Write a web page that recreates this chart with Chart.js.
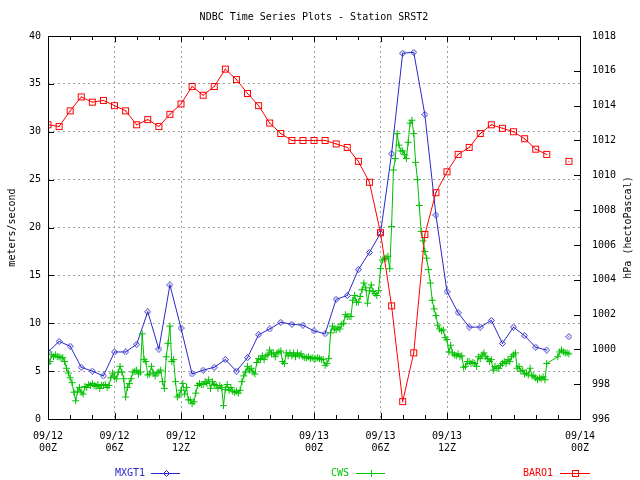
<!DOCTYPE html>
<html>
<head>
<meta charset="utf-8">
<script src="https://cdn.jsdelivr.net/npm/chart.js@4/dist/chart.umd.min.js"></script>
<style>
  html, body { margin: 0; padding: 0; background: #fff; }
  #wrap { width: 640px; height: 480px; }
</style>
</head>
<body>
<div id="wrap"><canvas id="plot" width="640" height="480"></canvas></div>
<script>
// hours since 09/12 00Z, hourly observations
const hours = [0, 1, 2, 3, 4, 5, 6, 7, 8, 9, 10, 11, 12, 13, 14, 15, 16, 17, 18, 19, 20, 21, 22, 23,
               24, 25, 26, 27, 28, 29, 30, 31, 32, 33, 34, 35, 36, 37, 38, 39, 40, 41, 42, 43, 44, 45, 46, 47];

// peak gust, m/s (hour 46 missing)
const mxgt1 = [7.0, 8.1, 7.6, 5.4, 5.0, 4.5, 7.0, 7.0, 7.8, 11.2, 7.3, 14.0,
               9.5, 4.7, 5.1, 5.4, 6.2, 5.0, 6.4, 8.8, 9.4, 10.1, 9.9, 9.8,
               9.2, 8.9, 12.5, 12.9, 15.6, 17.4, 19.4, 27.7, 38.2, 38.3, 31.8, 21.3,
               13.3, 11.1, 9.6, 9.6, 10.3, 7.9, 9.6, 8.7, 7.5, 7.2, null, 8.6];

// pressure, hPa (hour 46 missing)
const baro1 = [1012.9, 1012.8, 1013.7, 1014.5, 1014.2, 1014.3, 1014.0, 1013.7, 1012.9, 1013.2, 1012.8, 1013.5,
               1014.1, 1015.1, 1014.6, 1015.1, 1016.1, 1015.5, 1014.7, 1014.0, 1013.0, 1012.4, 1012.0, 1012.0,
               1012.0, 1012.0, 1011.8, 1011.6, 1010.8, 1009.6, 1006.7, 1002.5, 997.0, 999.8, 1006.6, 1009.0,
               1010.2, 1011.2, 1011.6, 1012.4, 1012.9, 1012.7, 1012.5, 1012.1, 1011.5, 1011.2, null, 1010.8];

// continuous wind speed, m/s, one row per hour, 10-minute values
const cwsHourly = [
  [5.8, 6.0, 6.7, 6.5, 6.7, 6.5],
  [6.5, 6.4, 6.4, 6.0, 5.3, 4.8],
  [4.3, 3.8, 2.8, 1.9, 2.9, 3.3],
  [2.8, 2.6, 3.4, 3.3, 3.6, 3.5],
  [3.7, 3.5, 3.4, 3.6, 3.2, 3.5],
  [3.5, 3.6, 3.3, 3.5, 4.3, 4.8],
  [4.4, 4.2, 4.9, 5.5, 4.9, 4.2],
  [2.3, 3.3, 3.7, 4.2, 4.9, 5.0],
  [5.1, 4.7, 4.9, 8.9, 6.2, 6.0],
  [4.6, 4.7, 5.5, 4.8, 4.5, 4.8],
  [4.9, 5.1, 3.9, 3.2, 6.5, 7.9],
  [9.7, 6.0, 6.2, 3.9, 2.3, 2.5],
  [3.0, 3.7, 2.6, 3.3, 2.0, 2.0],
  [1.6, 1.8, 2.7, 3.5, 3.7, 3.6],
  [3.6, 3.9, 3.7, 4.1, 3.2, 3.9],
  [3.6, 3.5, 3.2, 3.5, 3.3, 1.4],
  [3.1, 3.6, 3.0, 3.3, 2.9, 2.8],
  [2.9, 2.7, 3.0, 3.9, 4.5, 4.9],
  [5.5, 5.1, 5.3, 4.9, 4.7, 5.9],
  [6.3, 6.2, 6.6, 6.2, 6.6, 6.7],
  [7.2, 6.8, 6.9, 6.5, 6.9, 7.0],
  [7.1, 6.0, 5.8, 6.9, 6.6, 6.9],
  [6.6, 6.9, 6.5, 6.9, 6.6, 6.8],
  [6.5, 6.4, 6.4, 6.5, 6.3, 6.4],
  [6.3, 6.3, 6.4, 6.3, 6.2, 6.2],
  [5.6, 5.8, 6.3, 9.0, 9.7, 9.4],
  [9.3, 9.6, 9.4, 9.9, 10.0, 10.9],
  [10.7, 10.7, 10.7, 12.4, 12.9, 12.2],
  [12.2, 12.8, 13.5, 14.2, 13.7, 12.1],
  [13.4, 14.0, 13.3, 13.1, 12.9, 13.4],
  [15.7, 16.6, 16.7, 16.8, 17.0, 15.7],
  [20.1, 26.0, 27.2, 29.8, 28.6, 28.0],
  [28.0, 27.6, 27.2, 28.9, 30.9, 31.2],
  [29.8, 26.8, 25.0, 22.3, 19.6, 18.6],
  [17.5, 16.8, 15.6, 14.2, 12.4, 11.5],
  [10.8, 9.8, 9.4, 9.2, 9.3, 8.5],
  [8.3, 7.0, 7.7, 6.9, 6.7, 6.6],
  [6.8, 6.5, 6.6, 5.4, 5.5, 6.0],
  [6.0, 5.8, 5.9, 5.8, 5.5, 6.5],
  [6.3, 6.7, 6.9, 6.5, 6.3, 6.0],
  [6.2, 5.1, 5.5, 5.3, 5.3, 5.6],
  [5.8, 6.0, 5.8, 6.2, 6.0, 6.5],
  [6.7, 6.9, 5.3, 5.5, 5.0, 5.1],
  [4.7, 4.8, 4.6, 5.3, 4.5, 4.5],
  [4.3, 4.1, 4.3, 4.2, 4.4, 4.1],
  [5.8],
  [6.5, 7.0, 7.2, 7.0, 6.9, 6.9],
  [6.8]
];

// labelled x ticks (these also carry the vertical grid)
const labelHours = [0, 6, 12, 24, 30, 36, 48];
const labelDates = ['09/12', '09/12', '09/12', '09/13', '09/13', '09/13', '09/14'];
const labelTimes = ['00Z', '06Z', '12Z', '00Z', '06Z', '12Z', '00Z'];
// small unlabelled tick marks
const minorHours = [2, 4, 8, 10, 14, 16, 18, 20, 22, 26, 28, 32, 34, 38, 40, 42, 44, 46];

const FONT = "'DejaVu Sans Mono', 'Liberation Mono', monospace";
const BLUE = 'rgb(40,40,200)';
const GREEN = 'rgb(0,192,0)';
const RED = 'rgb(255,0,0)';
const GRID = '#a0a0a0';

Chart.defaults.font.family = FONT;
Chart.defaults.font.size = 10;
Chart.defaults.color = '#000';

function makeMarker(color, shape) {
    const size = shape === 'square' ? 9 : 7;
    const c = document.createElement('canvas');
    c.width = size; c.height = size;
    const g = c.getContext('2d');
    g.strokeStyle = color;
    g.fillStyle = color;
    g.lineWidth = 1;
    if (shape === 'square') {
        g.strokeRect(1.5, 1.5, 6, 6);
        g.fillRect(4, 4, 1, 1);
    } else {
        g.beginPath();
        g.moveTo(3.5, 0.5); g.lineTo(6.5, 3.5); g.lineTo(3.5, 6.5); g.lineTo(0.5, 3.5);
        g.closePath();
        g.stroke();
        g.fillRect(3, 3, 1, 1);
    }
    return c;
}

const diamond = makeMarker(BLUE, 'diamond');
const square = makeMarker(RED, 'square');

const gustPoints = hours.map((h, i) => ({ x: h, y: mxgt1[i] }));
const baroPoints = hours.map((h, i) => ({ x: h, y: baro1[i] }));
const cwsPoints = [];
cwsHourly.forEach((row, h) => {
    row.forEach((v, k) => cwsPoints.push({ x: h + k / 6, y: v }));
});

// gnuplot-like frame, inward ticks, right axis title and key
const gnuFrame = {
    id: 'gnuFrame',
    afterDraw(chart) {
        const { ctx, chartArea: a, scales } = chart;
        ctx.save();
        ctx.strokeStyle = '#000';
        ctx.lineWidth = 1;
        ctx.strokeRect(a.left + 0.5, a.top + 0.5, a.right - a.left, a.bottom - a.top);

        ctx.beginPath();
        labelHours.concat(minorHours).forEach(h => {
            const px = Math.round(scales.x.getPixelForValue(h)) + 0.5;
            const len = labelHours.includes(h) ? 6 : 4;
            ctx.moveTo(px, a.bottom); ctx.lineTo(px, a.bottom - len);
            ctx.moveTo(px, a.top); ctx.lineTo(px, a.top + len);
        });
        scales.y.ticks.forEach(t => {
            const py = Math.round(scales.y.getPixelForValue(t.value)) + 0.5;
            ctx.moveTo(a.left, py); ctx.lineTo(a.left + 6, py);
        });
        scales.y2.ticks.forEach(t => {
            const py = Math.round(scales.y2.getPixelForValue(t.value)) + 0.5;
            ctx.moveTo(a.right, py); ctx.lineTo(a.right - 6, py);
        });
        ctx.stroke();

        ctx.font = '10px ' + FONT;
        ctx.fillStyle = '#000';
        ctx.textAlign = 'center';
        ctx.textBaseline = 'middle';
        ctx.translate(628, (a.top + a.bottom) / 2);
        ctx.rotate(-Math.PI / 2);
        ctx.fillText('hPa (hectoPascal)', 0, 0);
        ctx.setTransform(1, 0, 0, 1, 0, 0);

        const keyY = 473;
        const keys = [
            { label: 'MXGT1', color: BLUE, right: 145, x1: 151, x2: 180, mark: diamond },
            { label: 'CWS', color: GREEN, right: 349, x1: 356, x2: 385, mark: null },
            { label: 'BARO1', color: RED, right: 553, x1: 560, x2: 590, mark: square }
        ];
        keys.forEach(k => {
            ctx.fillStyle = k.color;
            ctx.strokeStyle = k.color;
            ctx.textAlign = 'right';
            ctx.fillText(k.label, k.right, keyY);
            ctx.beginPath();
            ctx.moveTo(k.x1, keyY + 0.5); ctx.lineTo(k.x2, keyY + 0.5);
            const cx = Math.round((k.x1 + k.x2) / 2);
            if (!k.mark) {
                ctx.moveTo(cx + 0.5, keyY - 3); ctx.lineTo(cx + 0.5, keyY + 4);
            }
            ctx.stroke();
            if (k.mark) {
                ctx.drawImage(k.mark, cx - Math.floor(k.mark.width / 2), keyY - Math.floor(k.mark.height / 2));
            }
        });
        ctx.restore();
    }
};

new Chart(document.getElementById('plot'), {
    type: 'line',
    data: {
        datasets: [
            {
                label: 'MXGT1',
                data: gustPoints,
                yAxisID: 'y',
                borderColor: BLUE,
                borderWidth: 1,
                pointStyle: diamond,
                pointRadius: 3,
                tension: 0,
                spanGaps: false,
                order: 2
            },
            {
                label: 'CWS',
                data: cwsPoints,
                yAxisID: 'y',
                borderColor: GREEN,
                backgroundColor: GREEN,
                borderWidth: 1,
                pointStyle: 'cross',
                pointRadius: 3.5,
                pointBorderWidth: 1,
                tension: 0,
                order: 1
            },
            {
                label: 'BARO1',
                data: baroPoints,
                yAxisID: 'y2',
                borderColor: RED,
                borderWidth: 1,
                pointStyle: square,
                pointRadius: 4,
                tension: 0,
                spanGaps: false,
                order: 0
            }
        ]
    },
    options: {
        responsive: false,
        animation: false,
        devicePixelRatio: 1,
        layout: { padding: { top: 0, bottom: 26, left: 0, right: 0 } },
        plugins: {
            legend: { display: false },
            tooltip: { enabled: false },
            title: {
                display: true,
                text: 'NDBC Time Series Plots - Station SRST2',
                fullSize: false,
                font: { size: 10, weight: 'normal', family: FONT },
                color: '#000',
                padding: { top: 11, bottom: 13 }
            }
        },
        scales: {
            x: {
                type: 'linear',
                min: 0,
                max: 48,
                afterFit(scale) { scale.height = 35; },
                afterBuildTicks(scale) {
                    scale.ticks = labelHours.map(v => ({ value: v }));
                },
                ticks: {
                    autoSkip: false,
                    maxRotation: 0,
                    minRotation: 0,
                    padding: 11,
                    callback(value) {
                        const i = labelHours.indexOf(value);
                        return i >= 0 ? [labelDates[i], labelTimes[i]] : '';
                    }
                },
                grid: { drawTicks: false, lineWidth: 1, color: GRID },
                border: { display: false, dash: [2, 3] }
            },
            y: {
                position: 'left',
                min: 0,
                max: 40,
                afterFit(scale) { scale.width = 48; },
                ticks: { stepSize: 5, padding: 7 },
                grid: { drawTicks: false, color: GRID, lineWidth: 1 },
                border: { display: false, dash: [2, 3] },
                title: {
                    display: true,
                    text: 'meters/second',
                    font: { size: 10, family: FONT },
                    padding: { top: 6, bottom: 0 }
                }
            },
            y2: {
                position: 'right',
                min: 996,
                max: 1018,
                afterFit(scale) { scale.width = 60; },
                ticks: { stepSize: 2, padding: 12, callback: v => String(v) },
                grid: { display: false, drawTicks: false },
                border: { display: false }
            }
        }
    },
    plugins: [gnuFrame]
});
</script>
</body>
</html>
